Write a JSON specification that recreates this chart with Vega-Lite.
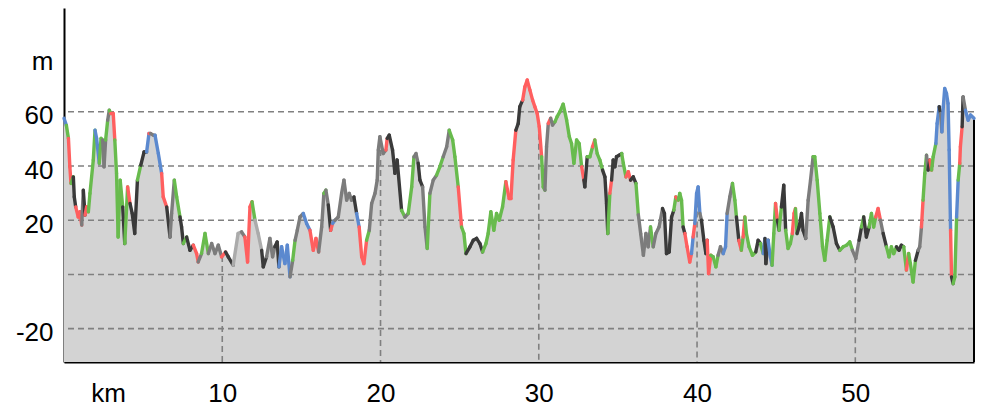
{
"$schema": "https://vega.github.io/schema/vega-lite/v6.json",
"width": 910, "height": 354,
"autosize": {"type": "none"},
"padding": {"left": 64, "top": 8, "right": 7, "bottom": 44},
"config": {"view": {"stroke": null}, "font": "Liberation Sans"},
"datasets": {
"hgrid": [{"v": -20}, {"v": 0}, {"v": 20}, {"v": 40}, {"v": 60}],
"vgrid": [{"km": 10, "ele": 6.8}, {"km": 20, "ele": 49.6}, {"km": 30, "ele": 55.6}, {"km": 40, "ele": 30.6}, {"km": 50, "ele": 6.3}],
"edge": [{"km": 57.5, "ele": 57.6}],
"prof": [
{"km":0,"ele":57.6,"c":"b"},{"km":0.15,"ele":55,"c":"g"},{"km":0.28,"ele":50.2,"c":"r"},{"km":0.37,"ele":39.7,"c":"r"},{"km":0.44,"ele":33.6,"c":"g"},{"km":0.59,"ele":36,"c":"d"},{"km":0.65,"ele":28.6,"c":"d"},{"km":0.74,"ele":24.9,"c":"r"},{"km":0.9,"ele":21.2,"c":"r"},{"km":1.0,"ele":23.1,"c":"r"},
{"km":1.12,"ele":18.2,"c":"k"},{"km":1.22,"ele":31.1,"c":"d"},{"km":1.33,"ele":21.9,"c":"r"},{"km":1.43,"ele":24.9,"c":"r"},{"km":1.54,"ele":23.1,"c":"g"},{"km":1.64,"ele":29.9,"c":"g"},{"km":1.85,"ele":42.2,"c":"g"},{"km":1.96,"ele":53.2,"c":"b"},{"km":2.06,"ele":50.2,"c":"b"},{"km":2.23,"ele":41,"c":"g"},
{"km":2.34,"ele":50.2,"c":"g"},{"km":2.44,"ele":49.6,"c":"k"},{"km":2.53,"ele":39.7,"c":"k"},{"km":2.63,"ele":49.6,"c":"g"},{"km":2.76,"ele":56.9,"c":"k"},{"km":2.86,"ele":60.6,"c":"g"},{"km":2.96,"ele":59.4,"c":"r"},{"km":3.11,"ele":59.4,"c":"r"},{"km":3.21,"ele":49.6,"c":"g"},{"km":3.32,"ele":37.3,"c":"g"},
{"km":3.42,"ele":13.8,"c":"g"},{"km":3.55,"ele":34.8,"c":"g"},{"km":3.71,"ele":24.9,"c":"d"},{"km":3.84,"ele":11.4,"c":"g"},{"km":4.02,"ele":32.3,"c":"r"},{"km":4.17,"ele":26.2,"c":"d"},{"km":4.31,"ele":22.5,"c":"d"},{"km":4.47,"ele":15.1,"c":"d"},{"km":4.64,"ele":34.8,"c":"g"},{"km":4.85,"ele":40.3,"c":"d"},
{"km":5.06,"ele":45.2,"c":"d"},{"km":5.22,"ele":45.2,"c":"b"},{"km":5.37,"ele":52,"c":"r"},{"km":5.47,"ele":52,"c":"k"},{"km":5.64,"ele":51.4,"c":"k"},{"km":5.75,"ele":51.4,"c":"b"},{"km":5.96,"ele":44.6,"c":"b"},{"km":6.17,"ele":37.3,"c":"r"},{"km":6.27,"ele":28.6,"c":"r"},{"km":6.49,"ele":24.9,"c":"d"},
{"km":6.7,"ele":13.8,"c":"k"},{"km":6.8,"ele":22.5,"c":"k"},{"km":6.97,"ele":34.8,"c":"g"},{"km":7.12,"ele":28.6,"c":"g"},{"km":7.33,"ele":21.2,"c":"d"},{"km":7.43,"ele":17.5,"c":"d"},{"km":7.54,"ele":11.4,"c":"g"},{"km":7.75,"ele":13.8,"c":"d"},{"km":7.96,"ele":8.9,"c":"d"},{"km":8.17,"ele":10.8,"c":"r"},
{"km":8.38,"ele":7.7,"c":"r"},{"km":8.48,"ele":4.6,"c":"k"},{"km":8.69,"ele":7.7,"c":"g"},{"km":8.91,"ele":15.1,"c":"g"},{"km":9.12,"ele":7.7,"c":"k"},{"km":9.33,"ele":11.4,"c":"k"},{"km":9.54,"ele":7.7,"c":"k"},{"km":9.75,"ele":10.8,"c":"k"},{"km":9.96,"ele":6.5,"c":"r"},{"km":10.21,"ele":8.3,"c":"d"},
{"km":10.38,"ele":6.5,"c":"d"},{"km":10.69,"ele":3.4,"c":"l"},{"km":11.0,"ele":15.1,"c":"l"},{"km":11.22,"ele":15.7,"c":"k"},{"km":11.43,"ele":13.8,"c":"r"},{"km":11.6,"ele":4.6,"c":"r"},{"km":11.75,"ele":24.9,"c":"r"},{"km":11.88,"ele":26.8,"c":"g"},{"km":12.07,"ele":20,"c":"l"},{"km":12.27,"ele":15.1,"c":"l"},
{"km":12.49,"ele":8.9,"c":"d"},{"km":12.59,"ele":2.8,"c":"d"},{"km":12.8,"ele":6.5,"c":"k"},{"km":13.01,"ele":13.3,"c":"k"},{"km":13.18,"ele":6.5,"c":"k"},{"km":13.32,"ele":10.2,"c":"d"},{"km":13.47,"ele":12,"c":"d"},{"km":13.58,"ele":2.8,"c":"b"},{"km":13.75,"ele":10.2,"c":"b"},{"km":13.96,"ele":4,"c":"b"},
{"km":14.11,"ele":10.8,"c":"b"},{"km":14.28,"ele":-0.9,"c":"k"},{"km":14.45,"ele":5.2,"c":"g"},{"km":14.6,"ele":12.6,"c":"k"},{"km":14.74,"ele":16.3,"c":"k"},{"km":14.91,"ele":21.2,"c":"k"},{"km":15.12,"ele":22.5,"c":"b"},{"km":15.33,"ele":18.8,"c":"b"},{"km":15.54,"ele":16.3,"c":"r"},{"km":15.75,"ele":8.9,"c":"r"},
{"km":15.92,"ele":13.3,"c":"r"},{"km":16.09,"ele":8.3,"c":"k"},{"km":16.28,"ele":17.5,"c":"k"},{"km":16.42,"ele":29.9,"c":"g"},{"km":16.55,"ele":31.1,"c":"k"},{"km":16.7,"ele":25.6,"c":"d"},{"km":16.85,"ele":16.3,"c":"r"},{"km":16.97,"ele":18.8,"c":"b"},{"km":17.12,"ele":20,"c":"k"},{"km":17.33,"ele":21.2,"c":"k"},
{"km":17.54,"ele":29.9,"c":"k"},{"km":17.69,"ele":34.8,"c":"k"},{"km":17.86,"ele":27.4,"c":"k"},{"km":18.02,"ele":29.9,"c":"k"},{"km":18.17,"ele":27.4,"c":"k"},{"km":18.32,"ele":28.6,"c":"d"},{"km":18.49,"ele":22.5,"c":"b"},{"km":18.65,"ele":17.5,"c":"r"},{"km":18.81,"ele":6.5,"c":"r"},{"km":18.95,"ele":4,"c":"r"},
{"km":19.12,"ele":12.6,"c":"g"},{"km":19.29,"ele":16.3,"c":"k"},{"km":19.44,"ele":26.2,"c":"k"},{"km":19.65,"ele":29.9,"c":"k"},{"km":19.79,"ele":34.8,"c":"k"},{"km":19.86,"ele":45.9,"c":"k"},{"km":19.96,"ele":50.8,"c":"k"},{"km":20.17,"ele":44.6,"c":"k"},{"km":20.34,"ele":45.9,"c":"r"},{"km":20.42,"ele":50.2,"c":"d"},
{"km":20.55,"ele":51.4,"c":"d"},{"km":20.76,"ele":45.9,"c":"d"},{"km":20.91,"ele":37.3,"c":"d"},{"km":21.05,"ele":42.2,"c":"d"},{"km":21.33,"ele":23.7,"c":"g"},{"km":21.54,"ele":21.2,"c":"k"},{"km":21.75,"ele":22.5,"c":"g"},{"km":21.97,"ele":32.3,"c":"g"},{"km":22.11,"ele":43.4,"c":"k"},{"km":22.24,"ele":44.6,"c":"k"},
{"km":22.38,"ele":41,"c":"d"},{"km":22.49,"ele":34.8,"c":"d"},{"km":22.66,"ele":32.3,"c":"k"},{"km":22.81,"ele":17.5,"c":"k"},{"km":22.95,"ele":9.6,"c":"g"},{"km":23.12,"ele":29.9,"c":"k"},{"km":23.33,"ele":34.8,"c":"k"},{"km":23.54,"ele":36.6,"c":"g"},{"km":23.75,"ele":39.7,"c":"g"},{"km":23.96,"ele":43.4,"c":"k"},
{"km":24.18,"ele":47.1,"c":"k"},{"km":24.34,"ele":53.2,"c":"g"},{"km":24.56,"ele":49.6,"c":"g"},{"km":24.7,"ele":43.4,"c":"g"},{"km":24.91,"ele":32.3,"c":"r"},{"km":25.12,"ele":17.5,"c":"g"},{"km":25.27,"ele":15.1,"c":"g"},{"km":25.4,"ele":7.7,"c":"d"},{"km":25.65,"ele":10.2,"c":"d"},{"km":25.86,"ele":12.6,"c":"d"},
{"km":26.07,"ele":13.3,"c":"d"},{"km":26.28,"ele":11.4,"c":"d"},{"km":26.45,"ele":8.3,"c":"g"},{"km":26.66,"ele":11.4,"c":"g"},{"km":26.8,"ele":15.1,"c":"g"},{"km":26.97,"ele":23.1,"c":"g"},{"km":27.16,"ele":16.3,"c":"g"},{"km":27.33,"ele":22.5,"c":"g"},{"km":27.5,"ele":20,"c":"g"},{"km":27.71,"ele":24.9,"c":"g"},
{"km":27.92,"ele":34.2,"c":"r"},{"km":28.13,"ele":28,"c":"r"},{"km":28.24,"ele":28,"c":"r"},{"km":28.38,"ele":42.2,"c":"r"},{"km":28.55,"ele":53.2,"c":"d"},{"km":28.7,"ele":55.7,"c":"d"},{"km":28.8,"ele":61.9,"c":"d"},{"km":28.98,"ele":64.3,"c":"r"},{"km":29.12,"ele":69.2,"c":"r"},{"km":29.27,"ele":71.7,"c":"r"},
{"km":29.44,"ele":68,"c":"r"},{"km":29.61,"ele":64.3,"c":"r"},{"km":29.75,"ele":61.9,"c":"r"},{"km":29.9,"ele":59.4,"c":"r"},{"km":30.03,"ele":54.5,"c":"r"},{"km":30.18,"ele":43.4,"c":"g"},{"km":30.28,"ele":32.3,"c":"g"},{"km":30.39,"ele":31.1,"c":"k"},{"km":30.49,"ele":47.1,"c":"k"},{"km":30.6,"ele":55.7,"c":"r"},
{"km":30.75,"ele":57.6,"c":"k"},{"km":30.87,"ele":55.1,"c":"k"},{"km":31.02,"ele":56.3,"c":"g"},{"km":31.16,"ele":58.2,"c":"g"},{"km":31.33,"ele":60,"c":"g"},{"km":31.54,"ele":62.8,"c":"g"},{"km":31.76,"ele":56.9,"c":"g"},{"km":31.93,"ele":50.8,"c":"g"},{"km":32.07,"ele":48.3,"c":"g"},{"km":32.22,"ele":41,"c":"g"},
{"km":32.39,"ele":49.6,"c":"g"},{"km":32.55,"ele":48.3,"c":"g"},{"km":32.71,"ele":39.7,"c":"r"},{"km":32.85,"ele":34.8,"c":"d"},{"km":32.91,"ele":32.3,"c":"d"},{"km":33.06,"ele":43.4,"c":"g"},{"km":33.23,"ele":43.4,"c":"g"},{"km":33.4,"ele":47.1,"c":"r"},{"km":33.54,"ele":49.6,"c":"g"},{"km":33.69,"ele":44.6,"c":"g"},
{"km":33.86,"ele":42.2,"c":"g"},{"km":34.03,"ele":38.5,"c":"d"},{"km":34.18,"ele":36,"c":"d"},{"km":34.28,"ele":26.2,"c":"d"},{"km":34.36,"ele":15.1,"c":"g"},{"km":34.49,"ele":29.9,"c":"r"},{"km":34.6,"ele":34.8,"c":"d"},{"km":34.7,"ele":42.2,"c":"d"},{"km":34.81,"ele":39.7,"c":"d"},{"km":34.91,"ele":43.4,"c":"d"},
{"km":35.08,"ele":44,"c":"d"},{"km":35.24,"ele":44.6,"c":"g"},{"km":35.34,"ele":41,"c":"g"},{"km":35.51,"ele":36,"c":"r"},{"km":35.66,"ele":37.9,"c":"r"},{"km":35.8,"ele":34.8,"c":"d"},{"km":35.97,"ele":36,"c":"d"},{"km":36.14,"ele":33.6,"c":"g"},{"km":36.29,"ele":22,"c":"k"},{"km":36.44,"ele":15,"c":"k"},
{"km":36.61,"ele":7.1,"c":"k"},{"km":36.77,"ele":15.1,"c":"k"},{"km":36.91,"ele":10.2,"c":"k"},{"km":37.06,"ele":17.5,"c":"g"},{"km":37.23,"ele":10.2,"c":"k"},{"km":37.4,"ele":15.1,"c":"k"},{"km":37.6,"ele":17.5,"c":"k"},{"km":37.82,"ele":24.3,"c":"d"},{"km":37.94,"ele":22.5,"c":"d"},{"km":38.07,"ele":7.7,"c":"d"},
{"km":38.24,"ele":8.3,"c":"d"},{"km":38.39,"ele":21.2,"c":"d"},{"km":38.53,"ele":23.7,"c":"g"},{"km":38.66,"ele":28.6,"c":"r"},{"km":38.81,"ele":27.4,"c":"g"},{"km":38.91,"ele":29.9,"c":"g"},{"km":39.02,"ele":27.4,"c":"g"},{"km":39.12,"ele":17.5,"c":"d"},{"km":39.23,"ele":15.1,"c":"r"},{"km":39.37,"ele":10.2,"c":"r"},
{"km":39.54,"ele":4.6,"c":"r"},{"km":39.65,"ele":7.7,"c":"b"},{"km":39.75,"ele":13.8,"c":"r"},{"km":39.86,"ele":18.8,"c":"b"},{"km":39.97,"ele":29.9,"c":"b"},{"km":40.07,"ele":32.3,"c":"b"},{"km":40.18,"ele":22.5,"c":"k"},{"km":40.28,"ele":20,"c":"d"},{"km":40.43,"ele":12.6,"c":"d"},{"km":40.56,"ele":7.7,"c":"d"},
{"km":40.64,"ele":12.6,"c":"r"},{"km":40.73,"ele":0.3,"c":"r"},{"km":40.87,"ele":7.1,"c":"g"},{"km":41.02,"ele":6.5,"c":"g"},{"km":41.19,"ele":2.8,"c":"g"},{"km":41.33,"ele":7.1,"c":"k"},{"km":41.48,"ele":10.2,"c":"k"},{"km":41.65,"ele":7.7,"c":"b"},{"km":41.8,"ele":10.2,"c":"b"},{"km":41.9,"ele":22.5,"c":"k"},
{"km":42.07,"ele":28.6,"c":"k"},{"km":42.24,"ele":33.6,"c":"g"},{"km":42.39,"ele":27.4,"c":"g"},{"km":42.49,"ele":21.2,"c":"d"},{"km":42.64,"ele":12.6,"c":"r"},{"km":42.8,"ele":8.9,"c":"g"},{"km":42.91,"ele":13.8,"c":"r"},{"km":43.02,"ele":21.2,"c":"g"},{"km":43.12,"ele":15.1,"c":"g"},{"km":43.29,"ele":10.2,"c":"g"},
{"km":43.5,"ele":7.1,"c":"g"},{"km":43.71,"ele":8.3,"c":"d"},{"km":43.86,"ele":12.6,"c":"d"},{"km":44.01,"ele":11.4,"c":"g"},{"km":44.18,"ele":7.7,"c":"b"},{"km":44.29,"ele":13.3,"c":"d"},{"km":44.35,"ele":4,"c":"d"},{"km":44.49,"ele":12.6,"c":"b"},{"km":44.6,"ele":7.7,"c":"b"},{"km":44.74,"ele":3.4,"c":"g"},
{"km":44.85,"ele":15.1,"c":"g"},{"km":44.96,"ele":26.2,"c":"r"},{"km":45.08,"ele":20,"c":"d"},{"km":45.18,"ele":16.3,"c":"g"},{"km":45.33,"ele":24.9,"c":"d"},{"km":45.48,"ele":32.9,"c":"d"},{"km":45.6,"ele":16.3,"c":"g"},{"km":45.75,"ele":9.6,"c":"g"},{"km":45.9,"ele":11.4,"c":"g"},{"km":46.02,"ele":15.1,"c":"r"},
{"km":46.13,"ele":22.5,"c":"r"},{"km":46.22,"ele":24.3,"c":"g"},{"km":46.32,"ele":15.1,"c":"d"},{"km":46.45,"ele":17.5,"c":"d"},{"km":46.6,"ele":22.5,"c":"d"},{"km":46.7,"ele":16.3,"c":"d"},{"km":46.87,"ele":13.3,"c":"k"},{"km":47.02,"ele":27.4,"c":"k"},{"km":47.17,"ele":34.8,"c":"k"},{"km":47.33,"ele":43.4,"c":"g"},
{"km":47.44,"ele":43.4,"c":"g"},{"km":47.59,"ele":34.8,"c":"g"},{"km":47.76,"ele":22.5,"c":"g"},{"km":47.93,"ele":10.2,"c":"g"},{"km":48.07,"ele":5.2,"c":"g"},{"km":48.22,"ele":12.6,"c":"g"},{"km":48.39,"ele":21.2,"c":"d"},{"km":48.6,"ele":17.5,"c":"d"},{"km":48.81,"ele":11.4,"c":"d"},{"km":49.02,"ele":8.9,"c":"g"},
{"km":49.23,"ele":10.2,"c":"g"},{"km":49.45,"ele":10.8,"c":"g"},{"km":49.65,"ele":12,"c":"g"},{"km":49.82,"ele":8.9,"c":"k"},{"km":50.03,"ele":5.9,"c":"k"},{"km":50.24,"ele":12.6,"c":"d"},{"km":50.39,"ele":17.5,"c":"g"},{"km":50.53,"ele":21.2,"c":"d"},{"km":50.7,"ele":13.8,"c":"d"},{"km":50.87,"ele":17.5,"c":"g"},
{"km":51.02,"ele":22.5,"c":"g"},{"km":51.16,"ele":17.5,"c":"g"},{"km":51.29,"ele":21.2,"c":"r"},{"km":51.44,"ele":24.3,"c":"r"},{"km":51.59,"ele":20,"c":"k"},{"km":51.76,"ele":15.1,"c":"d"},{"km":51.97,"ele":10.2,"c":"g"},{"km":52.13,"ele":6.5,"c":"g"},{"km":52.28,"ele":10.2,"c":"g"},{"km":52.43,"ele":7.7,"c":"g"},
{"km":52.6,"ele":10.2,"c":"d"},{"km":52.76,"ele":8.9,"c":"d"},{"km":52.91,"ele":10.8,"c":"d"},{"km":53.06,"ele":10.2,"c":"g"},{"km":53.23,"ele":1.6,"c":"r"},{"km":53.37,"ele":7.7,"c":"g"},{"km":53.48,"ele":4,"c":"g"},{"km":53.65,"ele":-2.8,"c":"g"},{"km":53.8,"ele":5.2,"c":"d"},{"km":53.97,"ele":8.9,"c":"k"},
{"km":54.07,"ele":10.2,"c":"k"},{"km":54.18,"ele":17.5,"c":"r"},{"km":54.28,"ele":27.4,"c":"g"},{"km":54.39,"ele":37.3,"c":"g"},{"km":54.5,"ele":44,"c":"k"},{"km":54.6,"ele":38.5,"c":"d"},{"km":54.71,"ele":42.2,"c":"r"},{"km":54.82,"ele":38.5,"c":"g"},{"km":54.92,"ele":43.4,"c":"g"},{"km":55.09,"ele":48.3,"c":"b"},
{"km":55.17,"ele":55.7,"c":"b"},{"km":55.3,"ele":61.9,"c":"d"},{"km":55.39,"ele":59.4,"c":"k"},{"km":55.47,"ele":52.6,"c":"b"},{"km":55.56,"ele":61.9,"c":"b"},{"km":55.65,"ele":68.6,"c":"b"},{"km":55.76,"ele":66.8,"c":"b"},{"km":55.86,"ele":63.1,"c":"b"},{"km":55.93,"ele":45.9,"c":"b"},{"km":56.02,"ele":16.3,"c":"r"},
{"km":56.08,"ele":-0.9,"c":"d"},{"km":56.18,"ele":-3.4,"c":"g"},{"km":56.29,"ele":-0.9,"c":"g"},{"km":56.4,"ele":21.2,"c":"b"},{"km":56.5,"ele":34.8,"c":"g"},{"km":56.6,"ele":41,"c":"r"},{"km":56.64,"ele":47.1,"c":"r"},{"km":56.75,"ele":54.5,"c":"d"},{"km":56.81,"ele":65.5,"c":"k"},{"km":56.96,"ele":60.6,"c":"b"},
{"km":57.13,"ele":56.9,"c":"b"},{"km":57.28,"ele":58.8,"c":"b"},{"km":57.5,"ele":57.6,"c":"b"}
]
},
"layer": [
{
"data": {"name": "prof"},
"mark": {"type": "area", "color": "#d3d3d3", "interpolate": "linear"},
"encoding": {
"x": {"field": "km", "type": "quantitative", "scale": {"domain": [0, 57.5], "nice": false, "zero": false},
"axis": {"values": [0, 10, 20, 30, 40, 50], "labelExpr": "datum.value == 0 ? '' : toString(datum.value)", "grid": false, "ticks": false, "domainColor": "#000000", "domainWidth": 2, "labelFontSize": 26, "labelColor": "#000000", "labelPadding": 18, "labelFont": "Liberation Sans", "title": "km", "titleFontSize": 26, "titleFontWeight": "normal", "titleFont": "Liberation Sans", "titleColor": "#000000", "titleX": 44, "titleY": 18, "titleAlign": "center", "titleBaseline": "top", "labelFlush": false}},
"y": {"field": "ele", "type": "quantitative", "scale": {"domain": [-32.3, 98.3], "nice": false, "zero": false},
"axis": {"values": [-20, 0, 20, 40, 60, 80], "labelExpr": "datum.value == 80 ? 'm' : (datum.value == 0 ? '' : toString(datum.value))", "grid": false, "ticks": false, "domainColor": "#000000", "domainWidth": 2, "labelFontSize": 26, "labelColor": "#000000", "labelPadding": 11, "labelOffset": 4, "labelFont": "Liberation Sans", "title": null}},
"y2": {"datum": -32.3}
}
},
{
"data": {"name": "hgrid"},
"mark": {"type": "rule", "color": "#808080", "strokeWidth": 1.6, "strokeDash": [6, 4]},
"encoding": {"y": {"field": "v", "type": "quantitative"}}
},
{
"data": {"name": "vgrid"},
"mark": {"type": "rule", "color": "#808080", "strokeWidth": 1.6, "strokeDash": [6, 4]},
"encoding": {"x": {"field": "km", "type": "quantitative"}, "y": {"field": "ele", "type": "quantitative"}, "y2": {"datum": -32.3}}
},
{
"data": {"name": "edge"},
"mark": {"type": "rule", "color": "#000000", "strokeWidth": 2},
"encoding": {"x": {"field": "km", "type": "quantitative"}, "y": {"field": "ele", "type": "quantitative"}, "y2": {"datum": -32.3}}
},
{
"data": {"name": "prof"},
"transform": [
{"window": [{"op": "lead", "field": "km", "as": "km2"}, {"op": "lead", "field": "ele", "as": "ele2"}], "sort": [{"field": "km", "order": "ascending"}]},
{"filter": "datum.km2 != null"}
],
"mark": {"type": "rule", "strokeWidth": 3.4, "strokeCap": "round"},
"encoding": {
"x": {"field": "km", "type": "quantitative"},
"y": {"field": "ele", "type": "quantitative"},
"x2": {"field": "km2"},
"y2": {"field": "ele2"},
"color": {"field": "c", "type": "nominal", "legend": null,
"scale": {"domain": ["r", "g", "b", "d", "k", "l"], "range": ["#ff5f5f", "#68bb4d", "#5b89cf", "#3a3a3a", "#7c7c7c", "#ababab"]}}
}
}
]
}
